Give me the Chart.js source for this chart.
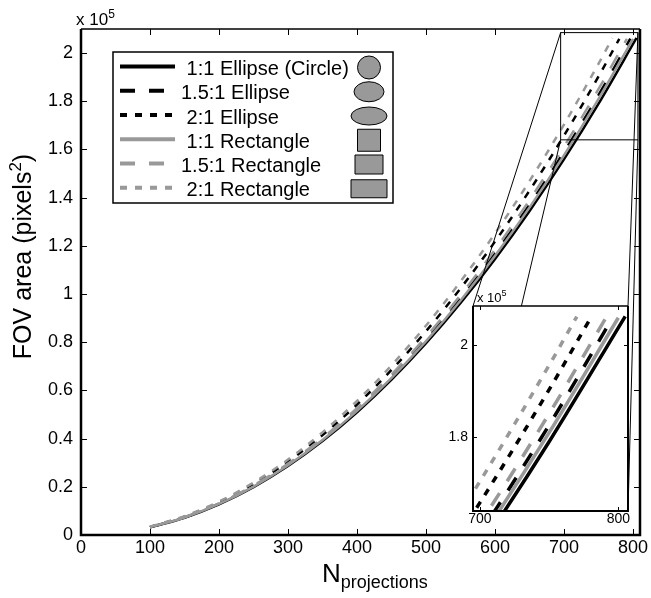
<!DOCTYPE html>
<html>
<head>
<meta charset="utf-8">
<script src="https://cdn.jsdelivr.net/npm/chart.js@4.4.1/dist/chart.umd.min.js"></script>
<style>
  html, body { margin: 0; padding: 0; background: #fff; }
  #wrap { position: relative; width: 651px; height: 598px; }
  #main { position: absolute; left: 0; top: 0; }
  #inset { position: absolute; left: 430px; top: 285px; }
</style>
</head>
<body>
<div id="wrap">
  <canvas id="main" width="651" height="598"></canvas>
  <canvas id="inset" width="210" height="250"></canvas>
</div>
<script>
// series names (leading space keeps the legend text lined up like the original)
const seriesNames = [' 1:1 Ellipse (Circle)', '1.5:1 Ellipse', ' 2:1 Ellipse', ' 1:1 Rectangle', '1.5:1 Rectangle', ' 2:1 Rectangle'];

// number of projections, shared by every series; the last point of each series is at lastN
const nProjections = [100, 150, 200, 250, 300, 350, 400, 450, 500, 550, 600, 650, 700, 750];
const lastN = [805, 796, 780, 800, 791, 770];

// FOV area in pixels^2
const ellipse11  = [3183, 7162, 12732, 19894, 28647, 38992, 50928, 64456, 79575, 96286, 114588, 134482, 155967, 179044, 206266];
const ellipse151 = [3247, 7306, 12988, 20294, 29223, 39776, 51952, 65752, 81175, 98222, 116892, 137186, 159103, 182644, 205994];
const ellipse21  = [3384, 7614, 13536, 21150, 30456, 41454, 54144, 68526, 84600, 102366, 121824, 142974, 165816, 190350, 205883];
const rect11     = [3218, 7241, 12872, 20113, 28962, 39421, 51488, 65165, 80450, 97345, 115848, 135961, 157682, 181013, 205952];
const rect151    = [3291, 7405, 13164, 20569, 29619, 40315, 52656, 66643, 82275, 99553, 118476, 139045, 161259, 185119, 205912];
const rect21     = [3478, 7826, 13912, 21738, 31302, 42606, 55648, 70430, 86950, 105210, 125208, 146946, 170422, 195638, 206211];

// ticks
const xTickValues = [0, 100, 200, 300, 400, 500, 600, 700, 800];
const yTickValues = [0, 20000, 40000, 60000, 80000, 100000, 120000, 140000, 160000, 180000, 200000];
const yTickLabels = ['0', '0.2', '0.4', '0.6', '0.8', '1', '1.2', '1.4', '1.6', '1.8', '2'];
const insetXTicks = [700, 800];
const insetYTicks = [180000, 200000];
const insetYLabels = ['1.8', '2'];

// zoomed window shown in the inset
const zoomX = [695, 807];
const zoomY = [164000, 208500];

const allSeries = [ellipse11, ellipse151, ellipse21, rect11, rect151, rect21];
const seriesColors = ['#000000', '#000000', '#000000', '#999999', '#999999', '#999999'];
const seriesDash = [[], [15, 14], [7, 8], [], [15, 14], [7, 8]];
const FONT = '"Liberation Sans", Arial, sans-serif';

Chart.defaults.font.family = FONT;
Chart.defaults.color = '#000';

function makeDatasets(width) {
  return allSeries.map((vals, i) => ({
    label: seriesNames[i],
    data: nProjections.map((n, j) => ({ x: n, y: vals[j] })).concat([{ x: lastN[i], y: vals[vals.length - 1] }]),
    borderColor: seriesColors[i],
    borderDash: seriesDash[i],
    borderWidth: width,
    pointRadius: 0,
    showLine: true,
    fill: false,
    cubicInterpolationMode: 'monotone',
    order: i < 3 ? 1 : 0
  }));
}

function drawParts(ctx, parts, x, y) {
  let cx = x;
  parts.forEach(([t, size, dy]) => {
    ctx.font = size + 'px ' + FONT;
    ctx.fillText(t, cx, y + dy);
    cx += ctx.measureText(t).width;
  });
  return cx;
}
function partsWidth(ctx, parts) {
  let w = 0;
  parts.forEach(([t, size]) => { ctx.font = size + 'px ' + FONT; w += ctx.measureText(t).width; });
  return w;
}

// ---------- inset ----------
const insetCanvas = document.getElementById('inset');
const insetDecor = {
  id: 'insetDecor',
  beforeDatasetsDraw(chart) {
    const a = chart.chartArea, ctx = chart.ctx;
    ctx.save();
    ctx.fillStyle = '#fff';
    ctx.fillRect(a.left, a.top, a.right - a.left, a.bottom - a.top);
    ctx.restore();
  },
  afterDraw(chart) {
    const a = chart.chartArea, ctx = chart.ctx, xs = chart.scales.x, ys = chart.scales.y;
    ctx.save();
    ctx.strokeStyle = '#000';
    ctx.lineWidth = 1;
    ctx.beginPath();
    insetXTicks.forEach(v => {
      const px = Math.round(xs.getPixelForValue(v)) + 0.5;
      ctx.moveTo(px, a.bottom); ctx.lineTo(px, a.bottom - 4);
      ctx.moveTo(px, a.top); ctx.lineTo(px, a.top + 4);
    });
    insetYTicks.forEach(v => {
      const py = Math.round(ys.getPixelForValue(v)) + 0.5;
      ctx.moveTo(a.left, py); ctx.lineTo(a.left + 4, py);
      ctx.moveTo(a.right, py); ctx.lineTo(a.right - 4, py);
    });
    ctx.stroke();
    ctx.lineWidth = 2;
    ctx.beginPath();
    ctx.moveTo(a.left, a.top); ctx.lineTo(a.left, a.bottom); ctx.lineTo(a.right, a.bottom); ctx.lineTo(a.right, a.top);
    ctx.stroke();
    ctx.lineWidth = 1.3;
    ctx.beginPath(); ctx.moveTo(a.left, a.top); ctx.lineTo(a.right, a.top); ctx.stroke();
    ctx.fillStyle = '#000';
    ctx.textBaseline = 'alphabetic';
    drawParts(ctx, [['x 10', 13, 0], ['5', 9, -6]], a.left + 4, a.top - 4);
    ctx.restore();
  }
};

const insetChart = new Chart(insetCanvas, {
  type: 'scatter',
  data: { datasets: makeDatasets(3.5).map(d => Object.assign(d, { clip: 0 })) },
  options: {
    responsive: false,
    animation: false,
    devicePixelRatio: 1,
    layout: { padding: { left: 0, top: 21, right: 12, bottom: 0 } },
    plugins: { legend: { display: false }, tooltip: { enabled: false } },
    scales: {
      x: {
        type: 'linear', min: zoomX[0], max: zoomX[1],
        grid: { display: false, drawTicks: false }, border: { display: false },
        afterBuildTicks: s => { s.ticks = insetXTicks.map(v => ({ value: v })); },
        afterFit: s => { s.height = 24; },
        ticks: { font: { size: 14 }, padding: 0, maxRotation: 0, callback: v => String(v) }
      },
      y: {
        type: 'linear', min: zoomY[0], max: zoomY[1],
        grid: { display: false, drawTicks: false }, border: { display: false },
        afterBuildTicks: s => { s.ticks = insetYTicks.map(v => ({ value: v })); },
        afterFit: s => { s.width = 43; },
        ticks: { font: { size: 14 }, padding: 5, callback: v => insetYLabels[insetYTicks.indexOf(v)] }
      }
    }
  },
  plugins: [insetDecor]
});

// ---------- main ----------
const legendShapes = [[23, 23], [30, 20], [36, 18], [23, 22], [28, 19], [36, 18]];

const mainDecor = {
  id: 'mainDecor',
  afterDraw(chart) {
    const ctx = chart.ctx, a = chart.chartArea, xs = chart.scales.x, ys = chart.scales.y;
    ctx.save();
    ctx.strokeStyle = '#000';
    ctx.fillStyle = '#000';

    // inward ticks on all four sides
    ctx.lineWidth = 1;
    ctx.beginPath();
    xTickValues.forEach(v => {
      const px = Math.round(xs.getPixelForValue(v)) + 0.5;
      ctx.moveTo(px, a.bottom); ctx.lineTo(px, a.bottom - 6);
      ctx.moveTo(px, a.top); ctx.lineTo(px, a.top + 6);
    });
    yTickValues.forEach(v => {
      const py = Math.round(ys.getPixelForValue(v)) + 0.5;
      ctx.moveTo(a.left, py); ctx.lineTo(a.left + 6, py);
      ctx.moveTo(a.right, py); ctx.lineTo(a.right - 6, py);
    });
    ctx.stroke();

    // axes box
    ctx.lineWidth = 2.5;
    ctx.beginPath();
    ctx.moveTo(a.left, a.top); ctx.lineTo(a.left, a.bottom); ctx.lineTo(a.right, a.bottom); ctx.lineTo(a.right, a.top);
    ctx.stroke();
    ctx.lineWidth = 1.5;
    ctx.beginPath(); ctx.moveTo(a.left, a.top); ctx.lineTo(a.right, a.top); ctx.stroke();

    // zoom rectangle and connectors to the inset
    const rx0 = xs.getPixelForValue(zoomX[0]), rx1 = xs.getPixelForValue(zoomX[1]);
    const ry0 = ys.getPixelForValue(zoomY[1]), ry1 = ys.getPixelForValue(zoomY[0]);
    const ia = insetChart.chartArea, ox = insetCanvas.offsetLeft, oy = insetCanvas.offsetTop;
    ctx.lineWidth = 1;
    ctx.strokeRect(rx0, ry0, rx1 - rx0, ry1 - ry0);
    ctx.beginPath();
    ctx.moveTo(rx0, ry0); ctx.lineTo(ox + ia.left, oy + ia.top);
    ctx.moveTo(rx0, ry1); ctx.lineTo(ox + ia.left, oy + ia.bottom);
    ctx.moveTo(rx1, ry0); ctx.lineTo(ox + ia.right, oy + ia.top);
    ctx.moveTo(rx1, ry1); ctx.lineTo(ox + ia.right, oy + ia.bottom);
    ctx.stroke();

    // legend
    const lx = 113, ly = 52, lw = 280, lh = 151;
    ctx.fillStyle = '#fff';
    ctx.fillRect(lx, ly, lw, lh);
    ctx.lineWidth = 1.5;
    ctx.strokeStyle = '#000';
    ctx.strokeRect(lx, ly, lw, lh);
    seriesNames.forEach((name, i) => {
      const ry = 66.5 + i * 24.25;
      ctx.save();
      ctx.strokeStyle = seriesColors[i];
      ctx.lineWidth = 4;
      ctx.setLineDash(seriesDash[i]);
      ctx.beginPath(); ctx.moveTo(120, ry); ctx.lineTo(175, ry); ctx.stroke();
      ctx.restore();
      ctx.fillStyle = '#000';
      ctx.font = '20px ' + FONT;
      ctx.textBaseline = 'alphabetic';
      ctx.textAlign = 'left';
      ctx.fillText(name, 181, ry + 8.5);
      const [w, h] = legendShapes[i];
      const cy = ry + 1, cx = 369;
      ctx.fillStyle = '#999999';
      ctx.strokeStyle = '#000';
      ctx.lineWidth = 1;
      ctx.beginPath();
      if (i < 3) ctx.ellipse(cx, cy, w / 2, h / 2, 0, 0, Math.PI * 2);
      else ctx.rect(cx - w / 2, cy - h / 2, w, h);
      ctx.fill(); ctx.stroke();
    });

    // exponent label
    ctx.fillStyle = '#000';
    ctx.textBaseline = 'alphabetic';
    ctx.textAlign = 'left';
    drawParts(ctx, [['x 10', 17, 0], ['5', 12, -7]], 76, 25);

    // x title
    drawParts(ctx, [['N', 26, 0], ['projections', 18, 6]], 322, 582);

    // y title
    const yParts = [['FOV area (pixels', 25, 0], ['2', 17, -10], [')', 25, 0]];
    const tw = partsWidth(ctx, yParts);
    ctx.save();
    ctx.translate(31, 256.5);
    ctx.rotate(-Math.PI / 2);
    drawParts(ctx, yParts, -tw / 2, 0);
    ctx.restore();

    ctx.restore();
  }
};

new Chart(document.getElementById('main'), {
  type: 'scatter',
  data: { datasets: makeDatasets(2.5) },
  options: {
    responsive: false,
    animation: false,
    devicePixelRatio: 1,
    layout: { padding: { left: 0, top: 29, right: 11, bottom: 0 } },
    plugins: { legend: { display: false }, tooltip: { enabled: false } },
    scales: {
      x: {
        type: 'linear', min: 0, max: 810,
        grid: { display: false, drawTicks: false }, border: { display: false },
        afterBuildTicks: s => { s.ticks = xTickValues.map(v => ({ value: v })); },
        afterFit: s => { s.height = 63; },
        ticks: { font: { size: 18 }, padding: 2, maxRotation: 0, callback: v => String(v) }
      },
      y: {
        type: 'linear', min: 0, max: 210000,
        grid: { display: false, drawTicks: false }, border: { display: false },
        afterBuildTicks: s => { s.ticks = yTickValues.map(v => ({ value: v })); },
        afterFit: s => { s.width = 81; },
        ticks: { font: { size: 18 }, padding: 8, callback: v => yTickLabels[yTickValues.indexOf(v)] }
      }
    }
  },
  plugins: [mainDecor]
});
</script>
</body>
</html>
